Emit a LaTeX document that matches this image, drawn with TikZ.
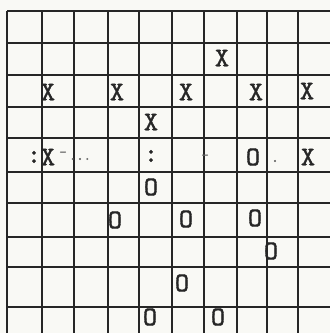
\documentclass[tikz,border=0pt]{standalone}
\usepackage{fontspec}
\newfontfamily\typer{lmmono10-regular.otf}[FakeBold=1.4]
\definecolor{paper}{HTML}{F9F9F5}
\definecolor{ink}{HTML}{262626}
\begin{document}
\begin{tikzpicture}[x=1pt,y=-1pt,
  gridline/.style={draw=ink,line width=2.6pt},
  glyph/.style={inner sep=0pt,text=ink,font=\typer\fontsize{27}{27}\selectfont},
  small/.style={inner sep=0pt,text=ink!70,font=\typer\fontsize{14}{14}\selectfont}]
\fill[paper] (0,0) rectangle (330,333);
\useasboundingbox (0,0) rectangle (330,333);
% grid
\foreach \y in {11,43,75,107,138,172,203,237,267,307}
  \draw[gridline] (7,\y) -- (331,\y);
\foreach \x in {7,42,74,108,139,172,204,237,267,298}
  \draw[gridline] (\x,11) -- (\x,334);
% row 1
\node[glyph] (x1) at (222,58) {X};
% row 2
\node[glyph] (x2) at (48,92) {X};
\node[glyph] (x3) at (117,92) {X};
\node[glyph] (x4) at (186,92) {X};
\node[glyph] (x5) at (256,92) {X};
\node[glyph] (x6) at (307,91) {X};
% row 3
\node[glyph] (x7) at (151,122) {X};
% row 4
\node[glyph] (c1) at (34,157) {:};
\node[glyph] (x8) at (48,157) {X};
\node[small] (d1) at (63,154) {-};
\node[small] (d2) at (80,159) {...};
\node[glyph] (c2) at (151,156) {:};
\node[small] (d3) at (205,157) {-};
\node[glyph] (o1) at (253,157) {O};
\node[small] (d4) at (275,161) {.};
\node[glyph] (x9) at (308,157) {X};
% row 5
\node[glyph] (o2) at (151,187) {O};
% row 6
\node[glyph] (o3) at (115,220) {O};
\node[glyph] (o4) at (186,219) {O};
\node[glyph] (o5) at (255,218) {O};
% row 7
\node[glyph] (o6) at (271,251) {O};
% row 8
\node[glyph] (o7) at (182,283) {O};
% row 9
\node[glyph] (o8) at (150,317) {O};
\node[glyph] (o9) at (218,317) {O};
\end{tikzpicture}
\end{document}
